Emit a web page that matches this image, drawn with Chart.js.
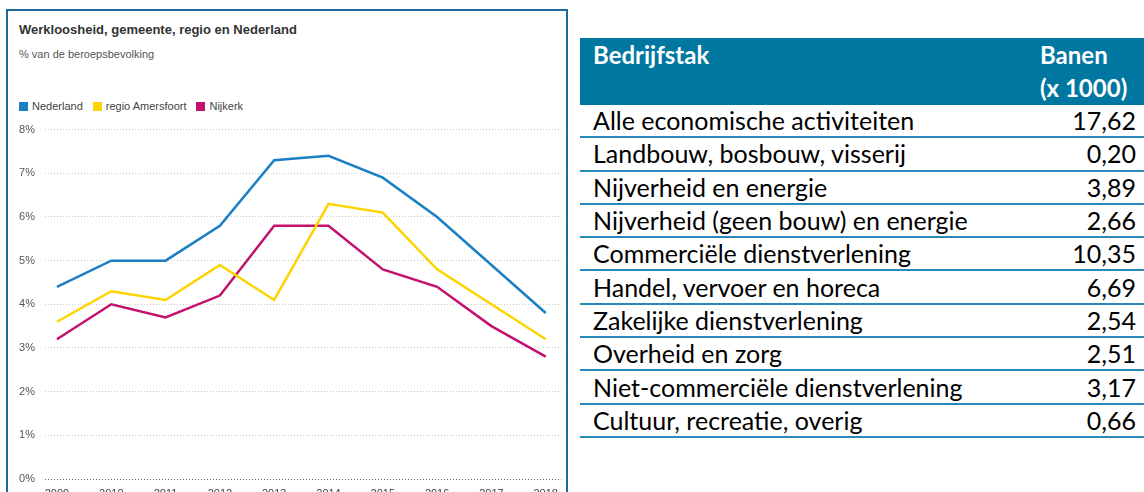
<!DOCTYPE html>
<html>
<head>
<meta charset="utf-8">
<script src="https://cdn.jsdelivr.net/npm/chart.js@4/dist/chart.umd.min.js"></script>
<style>
  html, body { margin: 0; padding: 0; background: #fff; width: 1144px; height: 492px; overflow: hidden; }
  #panel { position: absolute; left: 6px; top: 9px; width: 558px; height: 520px; border: 2px solid #1b6b9c; }
  #title { position: absolute; left: 11px; top: 11px; font: bold 13px "Liberation Sans", Arial, sans-serif; color: #333; }
  #subtitle { position: absolute; left: 11px; top: 37px; font: 11px "Liberation Sans", Arial, sans-serif; color: #555; }
  #legend { position: absolute; left: 11px; top: 89px; font: 11px "Liberation Sans", Arial, sans-serif; color: #444; white-space: nowrap; }
  #legend span.item { display: inline-block; margin-right: 10px; }
  #legend span.box { display: inline-block; width: 9px; height: 9px; vertical-align: -1px; margin-right: 4px; }
  #chartWrap { position: absolute; left: 0px; top: 102px; width: 558px; height: 385px; }
  #tbl { position: absolute; left: 580px; top: 38px; width: 564px; table-layout: fixed; border-collapse: collapse; font-family: Lato, "Open Sans", sans-serif; }
  #tbl th { background: #0077a0; color: #fff; font-weight: bold; font-size: 24px; text-align: left; vertical-align: top; padding: 0 0 0 13px; height: 67px; line-height: 33px; }
  #tbl th.num { padding-left: 0; width: 104px; }
  #tbl td { font-size: 25px; color: #000; height: 31.3px; padding: 0 0 0 13px; border-bottom: 2px solid #2a8ab7; line-height: 31px; white-space: nowrap; }
  #tbl td.num { text-align: right; padding: 0 8px 0 0; }
</style>
</head>
<body>
<div id="panel">
  <div id="title">Werkloosheid, gemeente, regio en Nederland</div>
  <div id="subtitle">% van de beroepsbevolking</div>
  <div id="legend"></div>
  <div id="chartWrap"><canvas id="c"></canvas></div>
</div>
<table id="tbl">
  <thead><tr><th>Bedrijfstak</th><th class="num">Banen<br>(x 1000)</th></tr></thead>
  <tbody></tbody>
</table>
<script>
const years = [2009, 2010, 2011, 2012, 2013, 2014, 2015, 2016, 2017, 2018];
const nederland = [4.4, 5.0, 5.0, 5.8, 7.3, 7.4, 6.9, 6.0, 4.9, 3.8];
const amersfoort = [3.6, 4.3, 4.1, 4.9, 4.1, 6.3, 6.1, 4.8, 4.0, 3.2];
const nijkerk = [3.2, 4.0, 3.7, 4.2, 5.8, 5.8, 4.8, 4.4, 3.5, 2.8];
const seriesNames = ['Nederland', 'regio Amersfoort', 'Nijkerk'];
const seriesColors = ['#1a7fc3', '#fdd400', '#c3126e'];
const yTicks = [0, 1, 2, 3, 4, 5, 6, 7, 8];

const sectors = ['Alle economische activiteiten', 'Landbouw, bosbouw, visserij', 'Nijverheid en energie',
  'Nijverheid (geen bouw) en energie', 'Commerciële dienstverlening', 'Handel, vervoer en horeca',
  'Zakelijke dienstverlening', 'Overheid en zorg', 'Niet-commerciële dienstverlening', 'Cultuur, recreatie, overig'];
const banen = ['17,62', '0,20', '3,89', '2,66', '10,35', '6,69', '2,54', '2,51', '3,17', '0,66'];

// table
const tbody = document.querySelector('#tbl tbody');
sectors.forEach((s, i) => {
  const tr = document.createElement('tr');
  tr.innerHTML = '<td>' + s + '</td><td class="num">' + banen[i] + '</td>';
  tbody.appendChild(tr);
});

// legend
const legend = document.getElementById('legend');
seriesNames.forEach((n, i) => {
  legend.innerHTML += '<span class="item"><span class="box" style="background:' + seriesColors[i] + '"></span>' + n + '</span>';
});

function pts(vals) { return vals.map((v, i) => ({ x: years[i], y: v })); }
const allSeries = [nederland, amersfoort, nijkerk];

new Chart(document.getElementById('c'), {
  type: 'line',
  data: {
    datasets: allSeries.map((s, i) => ({
      label: seriesNames[i],
      data: pts(s),
      borderColor: seriesColors[i],
      borderWidth: 2.5,
      pointRadius: 0,
      tension: 0,
      fill: false
    }))
  },
  options: {
    responsive: true,
    maintainAspectRatio: false,
    animation: false,
    layout: { padding: { top: 9, right: 1, left: 0, bottom: 0 } },
    plugins: { legend: { display: false }, tooltip: { enabled: false } },
    scales: {
      x: {
        type: 'linear',
        min: 2008.78,
        max: 2018.29,
        grid: { display: false, drawTicks: false },
        border: { display: false },
        afterFit: s => { s.height = 19; },
        afterBuildTicks: s => { s.ticks = years.map(v => ({ value: v })); },
        ticks: {
          padding: 8,
          color: '#444',
          font: { family: 'Liberation Sans', size: 11 },
          maxRotation: 0,
          autoSkip: false,
          callback: v => String(v)
        }
      },
      y: {
        min: 0,
        max: 8,
        afterFit: s => { s.width = 37; },
        afterBuildTicks: s => { s.ticks = yTicks.map(v => ({ value: v })); },
        grid: {
          drawTicks: false,
          lineWidth: 1,
          color: c => c.tick.value === 0 ? '#666' : '#c8c8c8'
        },
        border: { display: false, dash: [1, 2] },
        ticks: {
          padding: 10,
          color: '#555',
          font: { family: 'Liberation Sans', size: 11 },
          callback: v => v + '%'
        }
      }
    }
  }
});
</script>
</body>
</html>
